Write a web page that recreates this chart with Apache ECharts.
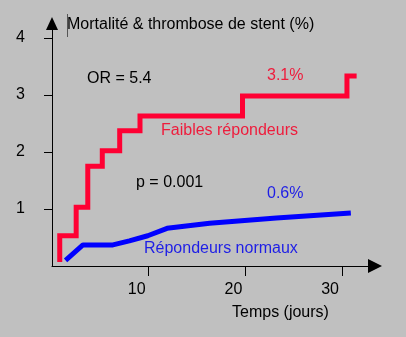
<!DOCTYPE html>
<html>
<head>
<meta charset="utf-8">
<script src="https://cdn.jsdelivr.net/npm/echarts@6/dist/echarts.min.js"></script>
<style>
  html, body { margin: 0; padding: 0; background: #c0c0c0; }
  #chart { width: 406px; height: 337px; }
</style>
</head>
<body>
<div id="chart"></div>
<script>
// Follow-up time (days) and cumulative event rate (%) for each group.
// Low responders: step curve, each point = (day of event, new cumulative rate).
const lowRespDays   = [0.8, 0.8, 2.5, 3.7, 5.2, 7.0, 9.1, 19.7, 30.5, 31.5];
const lowRespRates  = [0.07, 0.53, 1.03, 1.75, 2.02, 2.37, 2.63, 2.98, 3.33, 3.33];
// Normal responders: smooth-ish polyline.
const normRespDays  = [1.4, 3.2, 6.3, 8.0, 9.9, 11.9, 16.3, 23.2, 30.9];
const normRespRates = [0.10, 0.37, 0.37, 0.44, 0.53, 0.66, 0.75, 0.84, 0.93];

const xTickValues = [10, 20, 30];
const yTickValues = [1, 2, 3, 4];

const RED = '#ff0033';
const BLUE = '#0000ff';
const RED_TEXT = '#ee1c3c';
const BLUE_TEXT = '#1e1ee6';
const FONT = '"Liberation Sans", Arial, sans-serif';

const zip = (xs, ys) => xs.map((x, i) => [x, ys[i]]);

const chart = echarts.init(document.getElementById('chart'), null, { renderer: 'canvas' });

function txt(text, x, y, color) {
  return {
    type: 'text', x: x, y: y,
    style: { text: text, fill: color, font: '16px ' + FONT, verticalAlign: 'middle' }
  };
}

chart.setOption({
  backgroundColor: '#c0c0c0',
  animation: false,
  grid: { left: 52, right: 31, top: 23.5, bottom: 71, outerBoundsMode: 'none' },
  xAxis: {
    type: 'value', min: 0, max: 33.4, interval: 10,
    splitLine: { show: false },
    axisLine: {
      lineStyle: { color: '#000', width: 1 },
      symbol: ['none', 'triangle'], symbolSize: [14, 14]
    },
    axisTick: { customValues: xTickValues, length: 10, lineStyle: { color: '#000' } },
    axisLabel: {
      customValues: xTickValues, margin: 16, padding: [0, 24, 0, 0],
      color: '#000', fontSize: 16, fontFamily: FONT
    }
  },
  yAxis: {
    type: 'value', min: 0, max: 4.25, interval: 1,
    splitLine: { show: false },
    axisLine: {
      lineStyle: { color: '#000', width: 1 },
      symbol: ['none', 'triangle'], symbolSize: [12, 13]
    },
    axisTick: { customValues: yTickValues, length: 8, lineStyle: { color: '#000' } },
    axisLabel: {
      customValues: yTickValues, margin: 27, padding: [0, 0, 11, 0],
      color: '#000', fontSize: 16, fontFamily: FONT
    }
  },
  graphic: [
    { type: 'line', shape: { x1: 67.5, y1: 14, x2: 67.5, y2: 37 }, style: { stroke: '#555', lineWidth: 1 } },
    txt('Mortalité & thrombose de stent (%)', 67, 25, '#000'),
    txt('OR = 5.4', 87, 79, '#000'),
    txt('3.1%', 267, 76, RED_TEXT),
    txt('Faibles répondeurs', 161, 131, RED_TEXT),
    txt('p = 0.001', 136, 183, '#000'),
    txt('0.6%', 267, 194, BLUE_TEXT),
    txt('Répondeurs normaux', 144, 249, BLUE_TEXT),
    txt('Temps (jours)', 232, 313, '#000')
  ],
  series: [
    {
      name: 'Faibles répondeurs', type: 'line', step: 'end',
      data: zip(lowRespDays, lowRespRates),
      showSymbol: false, silent: true,
      lineStyle: { color: RED, width: 5, join: 'miter', cap: 'butt' }
    },
    {
      name: 'Répondeurs normaux', type: 'line',
      data: zip(normRespDays, normRespRates),
      showSymbol: false, silent: true,
      lineStyle: { color: BLUE, width: 5, join: 'round', cap: 'butt' }
    }
  ]
});
</script>
</body>
</html>
